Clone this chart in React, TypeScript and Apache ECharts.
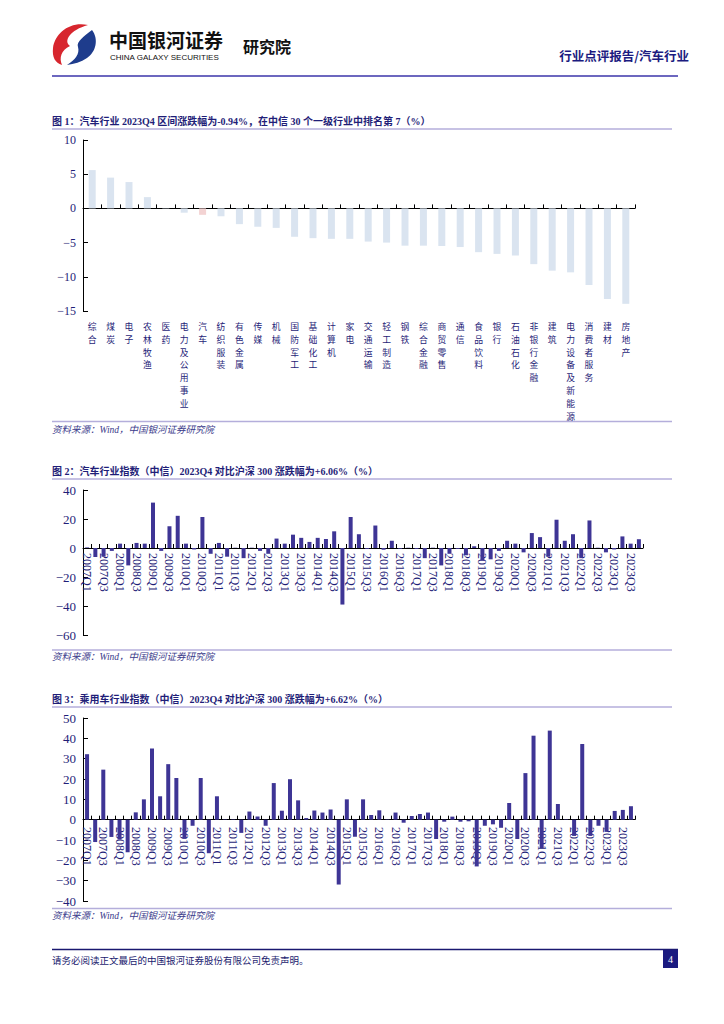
import React, { useEffect, useRef } from "react";
import * as echarts from "echarts";

// ---------- DATA ----------
const industries = ["综合", "煤炭", "电子", "农林牧渔", "医药", "电力及公用事业", "汽车", "纺织服装", "有色金属", "传媒", "机械", "国防军工", "基础化工", "计算机", "家电", "交通运输", "轻工制造", "钢铁", "综合金融", "商贸零售", "通信", "食品饮料", "银行", "石油石化", "非银行金融", "建筑", "电力设备及新能源", "消费者服务", "建材", "房地产"];
const industryReturns = [5.6, 4.5, 3.85, 1.65, 0.05, -0.63, -0.94, -1.15, -2.3, -2.7, -2.85, -4.15, -4.35, -4.45, -4.45, -4.85, -5.0, -5.45, -5.45, -5.5, -5.65, -6.4, -6.65, -6.9, -8.15, -9.1, -9.35, -11.2, -13.25, -13.95];

const years = [2007, 2008, 2009, 2010, 2011, 2012, 2013, 2014, 2015, 2016, 2017, 2018, 2019, 2020, 2021, 2022, 2023];
const quarterNames = ["Q1", "Q2", "Q3", "Q4"];
const quarters: string[] = [];
years.forEach((y) => quarterNames.forEach((q) => quarters.push(`${y}${q}`)));

const autoExcess = [
  0.4, -6.2, -6.0, -2.0, 3.0, -12.0, 3.5, 3.0,
  31.3, -2.0, 15.0, 22.2, 3.0, -1.0, 21.4, -4.0,
  3.5, -6.0, 0.2, -7.0, 0.2, -2.0, -4.0, 6.5,
  3.0, 9.2, 7.0, 4.2, 7.0, 6.2, 11.5, -39.0,
  21.4, 9.5, -0.6, 15.5, -1.2, 5.0, -0.5, 0.2,
  -0.6, -7.0, 0.2, -12.0, -4.0, -0.6, -5.0, 1.2,
  -8.7, -7.8, -2.0, 5.0, 3.0, -3.0, 10.3, 7.5,
  -6.0, 19.5, 5.0, 9.5, -7.0, 19.0, 0.2, -3.0,
  -1.0, 8.0, 3.0, 6.06,
];

const carExcess = [
  32.2, -11.0, 24.6, -8.5, -9.8, -16.0, 3.6, 10.0,
  35.0, 11.5, 27.3, 20.5, -9.4, -3.0, 20.5, -16.5,
  11.5, 0.2, 0.2, -6.5, 4.0, 1.5, -3.0, 18.0,
  4.4, 19.9, 9.5, 0.8, 4.5, 3.5, 5.0, -31.9,
  10.0, -8.4, 10.0, 2.3, 4.6, 0.2, 3.5, -1.5,
  1.8, 2.8, 3.5, -9.5, -1.0, 1.5, -1.0, -0.8,
  -23.0, -3.0, -2.3, -4.0, 8.2, -9.5, 22.9, 41.3,
  -14.0, 43.8, 7.7, 0.2, -8.0, 37.2, -8.0, -3.0,
  -6.0, 4.3, 4.8, 6.62,
];

const title1 = "图 1：汽车行业 2023Q4 区间涨跌幅为-0.94%，在中信 30 个一级行业中排名第 7（%）";
const title2 = "图 2：汽车行业指数（中信）2023Q4 对比沪深 300 涨跌幅为+6.06%（%）";
const title3 = "图 3：乘用车行业指数（中信）2023Q4 对比沪深 300 涨跌幅为+6.62%（%）";
const sourceText = "资料来源：Wind，中国银河证券研究院";
const footerText = "请务必阅读正文最后的中国银河证券股份有限公司免责声明。";

// ---------- STYLE ----------
const SERIF = "'Liberation Serif', 'Times New Roman', 'Noto Sans CJK SC', serif";
const CJK = "'Noto Sans CJK SC', sans-serif";
const NAVY = "#1F1E78";
const BAR = "#3E3595";
const LAVENDER = "#B4AEDB";

const logoRed = "M 88 25 C 70 21 55 33 53 48 C 52 57 55 63 62 65 C 59 58 61 50 70 46 C 63 41 70 30 88 25 Z";
const logoBlue = "M 92 30 C 99 39 96 52 87 58 C 81 62 74 64 67 65 C 75 60 80 54 78 47 C 76 42 84 36 92 30 Z";
let registered = false;
function registerLogo() {
  if (registered) return;
  registered = true;
  echarts.graphic.registerShape("logoRed", echarts.graphic.extendPath(logoRed, {}) as any);
  echarts.graphic.registerShape("logoBlue", echarts.graphic.extendPath(logoBlue, {}) as any);
}

const minus = (v: number) => String(v).replace("-", "\u2212");

const valueAxis = (grid: number, min: number, max: number, interval: number, fontSize: number) => ({
  type: "value",
  gridIndex: grid,
  min,
  max,
  interval,
  axisLine: { show: true, lineStyle: { color: "#000", width: 1 } },
  axisTick: { show: true, inside: true, length: 5, lineStyle: { color: "#000" } },
  splitLine: { show: false },
  axisLabel: { color: NAVY, fontFamily: SERIF, fontSize, margin: 7, formatter: minus },
});

// labelMargin is measured from the grid's bottom edge, so a negative value lifts the labels up to the zero line
const quarterAxis = (grid: number, labelMargin: number) => ({
  type: "category",
  gridIndex: grid,
  data: quarters,
  position: "bottom",
  axisLine: { show: true, onZero: true, lineStyle: { color: "#000", width: 1 } },
  axisTick: { show: true, inside: true, length: 4, interval: 0, alignWithLabel: false, lineStyle: { color: "#000" } },
  axisLabel: { interval: 1, rotate: -90, color: NAVY, fontFamily: SERIF, fontSize: 12, margin: labelMargin },
});

const textEl = (x: number, y: number, text: string, style: any) => ({
  type: "text",
  x,
  y,
  style: { text, verticalAlign: "middle", ...style },
});
const lineEl = (x1: number, y1: number, x2: number, y2: number, stroke: string, lineWidth: number) => ({
  type: "line",
  shape: { x1, y1, x2, y2 },
  style: { stroke, lineWidth },
});

export default function App() {
  const ref = useRef<HTMLDivElement>(null);
  useEffect(() => {
    if (!ref.current) return;
    registerLogo();
    const chart = echarts.init(ref.current, undefined, { renderer: "svg" });
    const titleStyle = { fontFamily: SERIF, fontSize: 10, fontWeight: "bold", fill: NAVY };
    const srcStyle = { fontFamily: SERIF, fontSize: 9.5, fontStyle: "italic", fill: "#3A3A8A" };
    chart.setOption({
      animation: false,
      backgroundColor: "#fff",
      grid: [
        { left: 83, top: 140, width: 552, height: 171 },
        { left: 83, top: 490, width: 560, height: 145 },
        { left: 83, top: 718, width: 552, height: 183 },
      ],
      xAxis: [
        {
          type: "category",
          gridIndex: 0,
          data: industries,
          position: "bottom",
          axisLine: { show: false, onZero: false },
          axisTick: { show: false },
          axisLabel: {
            interval: 0,
            color: NAVY,
            fontFamily: CJK,
            fontSize: 8.8,
            lineHeight: 12.8,
            margin: 9,
            align: "center",
            formatter: (v: string) => v.split("").join("\n"),
          },
        },
        {
          type: "category",
          gridIndex: 0,
          data: industries,
          position: "top",
          axisLine: { show: true, onZero: true, lineStyle: { color: "#000", width: 1 } },
          axisTick: { show: true, inside: false, length: 4, interval: 0, lineStyle: { color: "#000" } },
          axisLabel: { show: false },
        },
        quarterAxis(1, -82),
        quarterAxis(2, -74),
      ],
      yAxis: [valueAxis(0, -15, 10, 5, 12), valueAxis(1, -60, 40, 20, 13), valueAxis(2, -40, 50, 10, 13)],
      series: [
        {
          type: "bar",
          xAxisIndex: 0,
          yAxisIndex: 0,
          barWidth: 7,
          data: industryReturns.map((v, i) => ({
            value: v,
            itemStyle: { color: industries[i] === "汽车" ? "#F3D3D3" : "#DAE4F0" },
          })),
        },
        { type: "bar", xAxisIndex: 2, yAxisIndex: 1, barWidth: 4, itemStyle: { color: BAR }, data: autoExcess },
        { type: "bar", xAxisIndex: 3, yAxisIndex: 2, barWidth: 4, itemStyle: { color: BAR }, data: carExcess },
      ],
      graphic: [
        { type: "logoRed", style: { fill: "#D7262E" } },
        { type: "logoBlue", style: { fill: "#1E3C8C" } },
        textEl(109, 39.5, "中国银河证券", { fontFamily: CJK, fontSize: 19, lineHeight: 19, fontWeight: "bold", fill: "#111" }),
        textEl(110, 57, "CHINA GALAXY SECURITIES", { fontFamily: "'Liberation Sans', Arial, sans-serif", fontSize: 8, lineHeight: 8, fill: "#111" }),
        textEl(243, 46, "研究院", { fontFamily: CJK, fontSize: 16, fontWeight: "bold", fill: "#111" }),
        textEl(689, 55, "行业点评报告/汽车行业", { fontFamily: CJK, fontSize: 12.5, fontWeight: "bold", fill: "#1B1B80", align: "right" }),
        lineEl(52, 76, 678, 76, "#6C67BF", 2),

        textEl(52, 121.5, title1, titleStyle),
        lineEl(52, 129, 672, 129, LAVENDER, 1.5),
        lineEl(52, 421.5, 672, 421.5, LAVENDER, 1.5),
        textEl(52, 430, sourceText, srcStyle),

        textEl(52, 471, title2, titleStyle),
        lineEl(52, 479, 672, 479, LAVENDER, 1.5),
        lineEl(52, 650, 672, 650, LAVENDER, 1.5),
        textEl(52, 657, sourceText, srcStyle),

        textEl(52, 699.5, title3, titleStyle),
        lineEl(52, 707, 672, 707, LAVENDER, 1.5),
        lineEl(52, 908.5, 672, 908.5, LAVENDER, 1.5),
        textEl(52, 915.5, sourceText, srcStyle),

        lineEl(52, 949.5, 678, 949.5, "#1A1870", 1.5),
        textEl(52, 960, footerText, { fontFamily: CJK, fontSize: 9.5, fill: "#1A1A6E" }),
        { type: "rect", shape: { x: 663, y: 950, width: 15, height: 18 }, style: { fill: "#1A1A80" } },
        textEl(670.5, 959, "4", { fontFamily: SERIF, fontSize: 10, fill: "#fff", align: "center" }),
      ],
    });
    return () => chart.dispose();
  }, []);
  return (
    <div
      ref={ref}
      style={{ position: "absolute", left: 0, top: 0, width: 724, height: 1024, background: "#fff" }}
    />
  );
}
